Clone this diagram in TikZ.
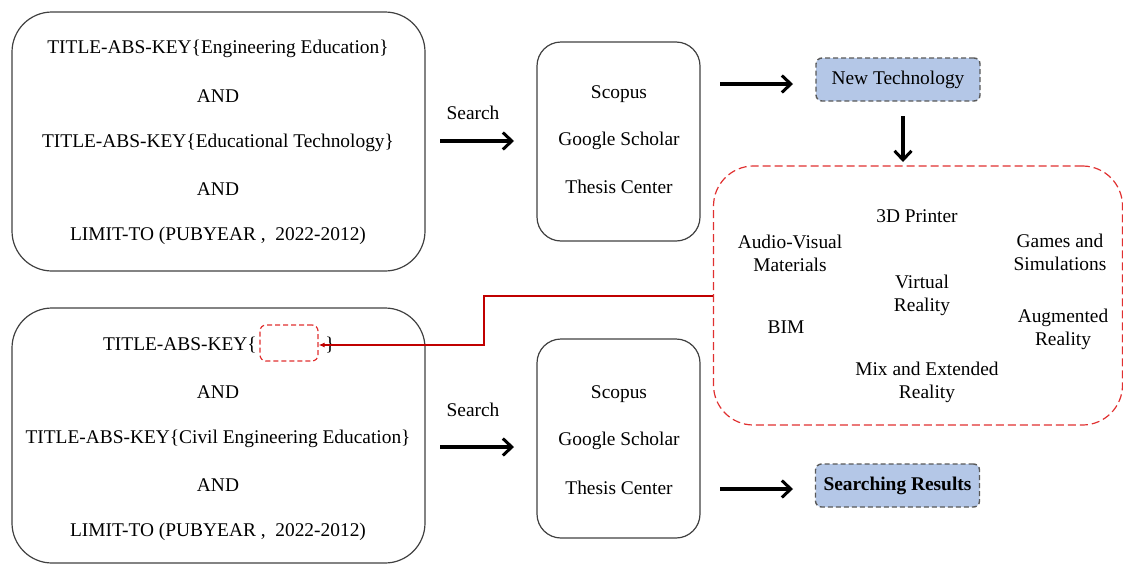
\documentclass[tikz,border=0pt]{standalone}
\usepackage{fontspec}
\setmainfont{Liberation Serif}
\newfontfamily\tnr{Liberation Serif}
\usetikzlibrary{arrows.meta}
\definecolor{boxblue}{HTML}{B4C7E7}
\definecolor{darkred}{HTML}{C00000}
\definecolor{dashred}{HTML}{E03030}
\begin{document}
\begin{tikzpicture}[x=1pt,y=-1pt,
  txt/.style={font=\tnr\fontsize{19.4}{21}\selectfont, inner sep=0pt, align=center},
  bigbox/.style={draw=black!75, line width=1.2pt, rounded corners=40pt, minimum width=413pt, inner sep=0pt},
  dbbox/.style={draw=black!75, line width=1.2pt, rounded corners=24pt, minimum width=163pt, minimum height=199pt, inner sep=0pt},
  bluebox/.style={draw=black!65, dash pattern=on 5pt off 3pt, line width=1.4pt, fill=boxblue, rounded corners=6pt, minimum width=164pt, minimum height=43pt, inner sep=0pt, font=\tnr\fontsize{19.4}{21}\selectfont},
  bigarrow/.style={-{Straight Barb[length=9pt,width=17pt,line width=3pt]}, line width=3.2pt, black},
  redline/.style={darkred, line width=2pt, -{Latex[length=6pt,width=5pt]}}
]
\useasboundingbox (0,0) rectangle (1123,565);

% top-left query box
\node[bigbox, minimum height=259pt] (q1) at (218.5,141.5) {};
\node[txt] (q1a) at (218,49) {TITLE-ABS-KEY\{Engineering Education\}};
\node[txt] (q1b) at (218,96) {AND};
\node[txt] (q1c) at (218,143) {TITLE-ABS-KEY\{Educational Technology\}};
\node[txt] (q1d) at (218,189) {AND};
\node[txt] (q1e) at (218,236) {LIMIT-TO (PUBYEAR ,\ \ 2022-2012)};

% bottom-left query box
\node[bigbox, minimum height=255pt] (q2) at (218.5,435.5) {};
\node[draw=dashred, dash pattern=on 5pt off 3pt, line width=1.2pt, rounded corners=6pt, minimum width=58pt, minimum height=36pt, inner sep=0pt] (blank) at (289,343) {};
\node[txt, anchor=east] (q2a) at (257,345) {TITLE-ABS-KEY\{};
\node[txt] (q2brace) at (330,345) {\}};
\node[txt] (q2b) at (218,392) {AND};
\node[txt] (q2c) at (218,439) {TITLE-ABS-KEY\{Civil Engineering Education\}};
\node[txt] (q2d) at (218,485) {AND};
\node[txt] (q2e) at (218,532) {LIMIT-TO (PUBYEAR ,\ \ 2022-2012)};

% database boxes
\node[dbbox] (db1) at (618.5,141.5) {};
\node[txt] (db1a) at (619,94) {Scopus};
\node[txt] (db1b) at (619,141) {Google Scholar};
\node[txt] (db1c) at (619,187) {Thesis Center};

\node[dbbox] (db2) at (618.5,438.5) {};
\node[txt] (db2a) at (619,394) {Scopus};
\node[txt] (db2b) at (619,441) {Google Scholar};
\node[txt] (db2c) at (619,488) {Thesis Center};

% search arrows
\node[txt] (s1) at (473,113) {Search};
\coordinate (a1s) at (440,141);
\coordinate (a1e) at (514,141);
\draw[bigarrow] (a1s) -- (a1e);

\node[txt] (s2) at (473,410) {Search};
\coordinate (a2s) at (440,447);
\coordinate (a2e) at (514,447);
\draw[bigarrow] (a2s) -- (a2e);

% New Technology
\node[bluebox] (nt) at (898,79.5) {New Technology};
\coordinate (a3s) at (720,84);
\coordinate (a3e) at (793,84);
\draw[bigarrow] (a3s) -- (a3e);

% Searching Results
\node[bluebox, font=\tnr\fontsize{19.4}{21}\selectfont\bfseries] (sr) at (897.5,485.5) {Searching Results};
\coordinate (a4s) at (720,489);
\coordinate (a4e) at (793,489);
\draw[bigarrow] (a4s) -- (a4e);

% red technology box
\node[draw=dashred, dash pattern=on 8pt off 4pt, line width=1.2pt, rounded corners=40pt, minimum width=409pt, minimum height=259pt, inner sep=0pt] (tech) at (918,295.5) {};
\coordinate (a5s) at (903,116);
\coordinate (a5e) at (903,162);
\draw[bigarrow] (a5s) -- (a5e);

\node[txt] (t1) at (917,216) {3D Printer};
\node[txt] (t2) at (790,253) {Audio-Visual\\[2pt]Materials};
\node[txt] (t3) at (1060,252) {Games and\\[2pt]Simulations};
\node[txt] (t4) at (922,295) {Virtual\\[2pt]Reality};
\node[txt] (t5) at (786,327) {BIM};
\node[txt] (t6) at (1063,329) {Augmented\\[2pt]Reality};
\node[txt] (t7) at (927,382) {Mix and Extended\\[2pt]Reality};

% red feedback connector
\coordinate (r1) at (484,296);
\coordinate (r2) at (484,345);
\draw[redline] (tech.west |- r1) -- (r1) -- (r2) -- (blank.east |- r2);
\end{tikzpicture}
\end{document}
